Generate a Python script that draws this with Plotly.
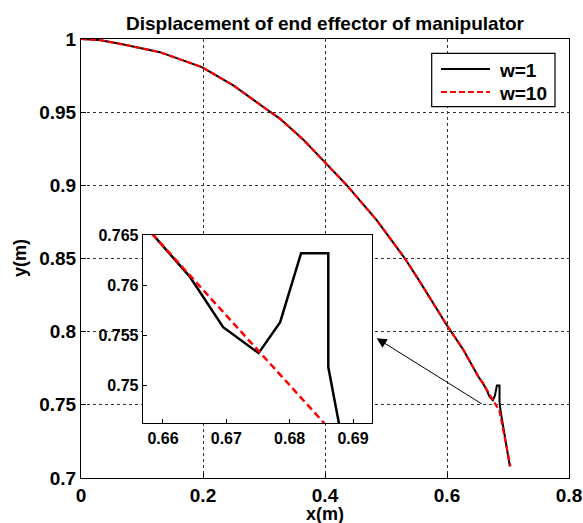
import plotly.graph_objects as go

# ---- data ----
x_w1 = [0.0, 0.03, 0.064, 0.1295, 0.198, 0.2497, 0.304, 0.326, 0.3645, 0.397, 0.4356,
        0.4847, 0.531, 0.5557, 0.5995, 0.627, 0.6513, 0.6585, 0.6643, 0.6695, 0.6751,
        0.6785, 0.6818, 0.6861, 0.6861, 0.6878, 0.703]
y_w1 = [1.0, 0.9993, 0.9967, 0.991, 0.9808, 0.9683, 0.952, 0.9456, 0.9312, 0.917, 0.9001,
        0.8762, 0.850, 0.834, 0.8046, 0.7875, 0.7693, 0.765, 0.7608, 0.7558, 0.7532,
        0.7563, 0.7632, 0.7632, 0.7518, 0.7461, 0.708]

x_w10 = [0.0, 0.03, 0.064, 0.1295, 0.198, 0.2497, 0.304, 0.326, 0.3645, 0.397, 0.4356,
         0.4847, 0.531, 0.5557, 0.5995, 0.627, 0.6513, 0.6585, 0.686, 0.704]
y_w10 = [1.0, 0.9993, 0.9967, 0.991, 0.9808, 0.9683, 0.952, 0.9456, 0.9312, 0.917, 0.9001,
         0.8762, 0.850, 0.834, 0.8046, 0.7875, 0.7693, 0.765, 0.7458, 0.708]

series_names = ["w=1", "w=10"]
main_xticks = [0, 0.2, 0.4, 0.6, 0.8]
main_xlabels = ["0", "0.2", "0.4", "0.6", "0.8"]
main_yticks = [0.7, 0.75, 0.8, 0.85, 0.9, 0.95, 1.0]
main_ylabels = ["0.7", "0.75", "0.8", "0.85", "0.9", "0.95", "1"]
inset_xticks = [0.66, 0.67, 0.68, 0.69]
inset_xlabels = ["0.66", "0.67", "0.68", "0.69"]
inset_yticks = [0.75, 0.755, 0.76, 0.765]
inset_ylabels = ["0.75", "0.755", "0.76", "0.765"]

FONT = "Liberation Sans, Arial, sans-serif"
W, H = 583, 523
ML, MR, MT, MB = 81, 14, 39, 45
PW, PH = W - ML - MR, H - MT - MB


def px(xp):
    return (xp - ML) / PW


def py(yp):
    return (H - MB - yp) / PH


BLACK_LINE = dict(color="black", width=2.0)
RED_LINE = dict(color="#ff0000", width=2.2, dash="6px,3px")

fig = go.Figure()
fig.add_trace(go.Scatter(x=x_w1, y=y_w1, mode="lines", name=series_names[0],
                         line=BLACK_LINE, xaxis="x", yaxis="y"))
fig.add_trace(go.Scatter(x=x_w10, y=y_w10, mode="lines", name=series_names[1],
                         line=RED_LINE, xaxis="x", yaxis="y"))
fig.add_trace(go.Scatter(x=x_w1, y=y_w1, mode="lines", showlegend=False,
                         line=dict(color="black", width=2.5), xaxis="x2", yaxis="y2"))
fig.add_trace(go.Scatter(x=x_w10, y=y_w10, mode="lines", showlegend=False,
                         line=dict(color="#ff0000", width=2.5, dash="7px,4px"),
                         xaxis="x2", yaxis="y2"))

axis_common = dict(showline=True, mirror=True, linecolor="black", linewidth=1,
                   ticks="inside", tickcolor="black", zeroline=False, automargin=False)

fig.update_layout(
    width=W, height=H,
    margin=dict(l=ML, r=MR, t=MT, b=MB, autoexpand=False),
    paper_bgcolor="white", plot_bgcolor="white",
    font=dict(family=FONT, color="black"),
    showlegend=False,
    xaxis=dict(domain=[0, 1], range=[0, 0.8], tickvals=main_xticks, ticktext=main_xlabels,
               showgrid=True, gridcolor="#333333", gridwidth=1, griddash="3px,3px",
               ticklen=5, tickfont=dict(size=19, weight="bold", family=FONT), **axis_common),
    yaxis=dict(domain=[0, 1], range=[0.7, 1.0], tickvals=main_yticks, ticktext=main_ylabels,
               showgrid=True, gridcolor="#333333", gridwidth=1, griddash="3px,3px",
               ticklen=5, tickfont=dict(size=19, weight="bold", family=FONT), **axis_common),
    xaxis2=dict(domain=[px(142.7), px(372)], anchor="y2", range=[0.6568, 0.6930],
                tickvals=inset_xticks, ticktext=inset_xlabels, showgrid=False, ticklen=4,
                tickfont=dict(size=16, weight="bold", family=FONT), **axis_common),
    yaxis2=dict(domain=[py(423.3), py(235)], anchor="x2", range=[0.74617, 0.76503],
                tickvals=inset_yticks, ticktext=inset_ylabels, showgrid=False, ticklen=4,
                tickfont=dict(size=16, weight="bold", family=FONT), **axis_common),
)

fig.add_annotation(text="Displacement of end effector of manipulator", xref="paper", yref="paper",
                   x=0.5, y=py(23), xanchor="center", yanchor="middle", showarrow=False,
                   font=dict(size=19, weight="bold", family=FONT))
fig.add_annotation(text="x(m)", xref="paper", yref="paper", x=0.5, y=py(514),
                   xanchor="center", yanchor="middle", showarrow=False,
                   font=dict(size=18, weight="bold", family=FONT))
fig.add_annotation(text="y(m)", xref="paper", yref="paper", x=px(20), y=py(258),
                   xanchor="center", yanchor="middle", showarrow=False, textangle=-90,
                   font=dict(size=18, weight="bold", family=FONT))
# arrow pointing from the spike to the inset
fig.add_annotation(x=0.4847, y=0.7955, ax=0.6595, ay=0.75, xref="x", yref="y",
                   axref="x", ayref="y", text="", showarrow=True, arrowhead=2,
                   arrowsize=2, arrowwidth=1, arrowcolor="black")

# legend box (drawn in paper coordinates)
fig.add_shape(type="rect", xref="paper", yref="paper", x0=px(431.7), x1=px(555),
              y0=py(106.7), y1=py(53.3), line=dict(color="black", width=1.2),
              fillcolor="white", layer="above")
for i, (name, ln) in enumerate(zip(series_names, [BLACK_LINE, RED_LINE])):
    yy = [69, 92][i]
    fig.add_shape(type="line", xref="paper", yref="paper", x0=px(441), x1=px(490),
                  y0=py(yy), y1=py(yy), line=ln, layer="above")
    fig.add_annotation(text=name, xref="paper", yref="paper", x=px(497), y=py(yy + 1),
                       xanchor="left", yanchor="middle", showarrow=False,
                       font=dict(size=19, weight="bold", family=FONT))

fig.write_html("out.html")
